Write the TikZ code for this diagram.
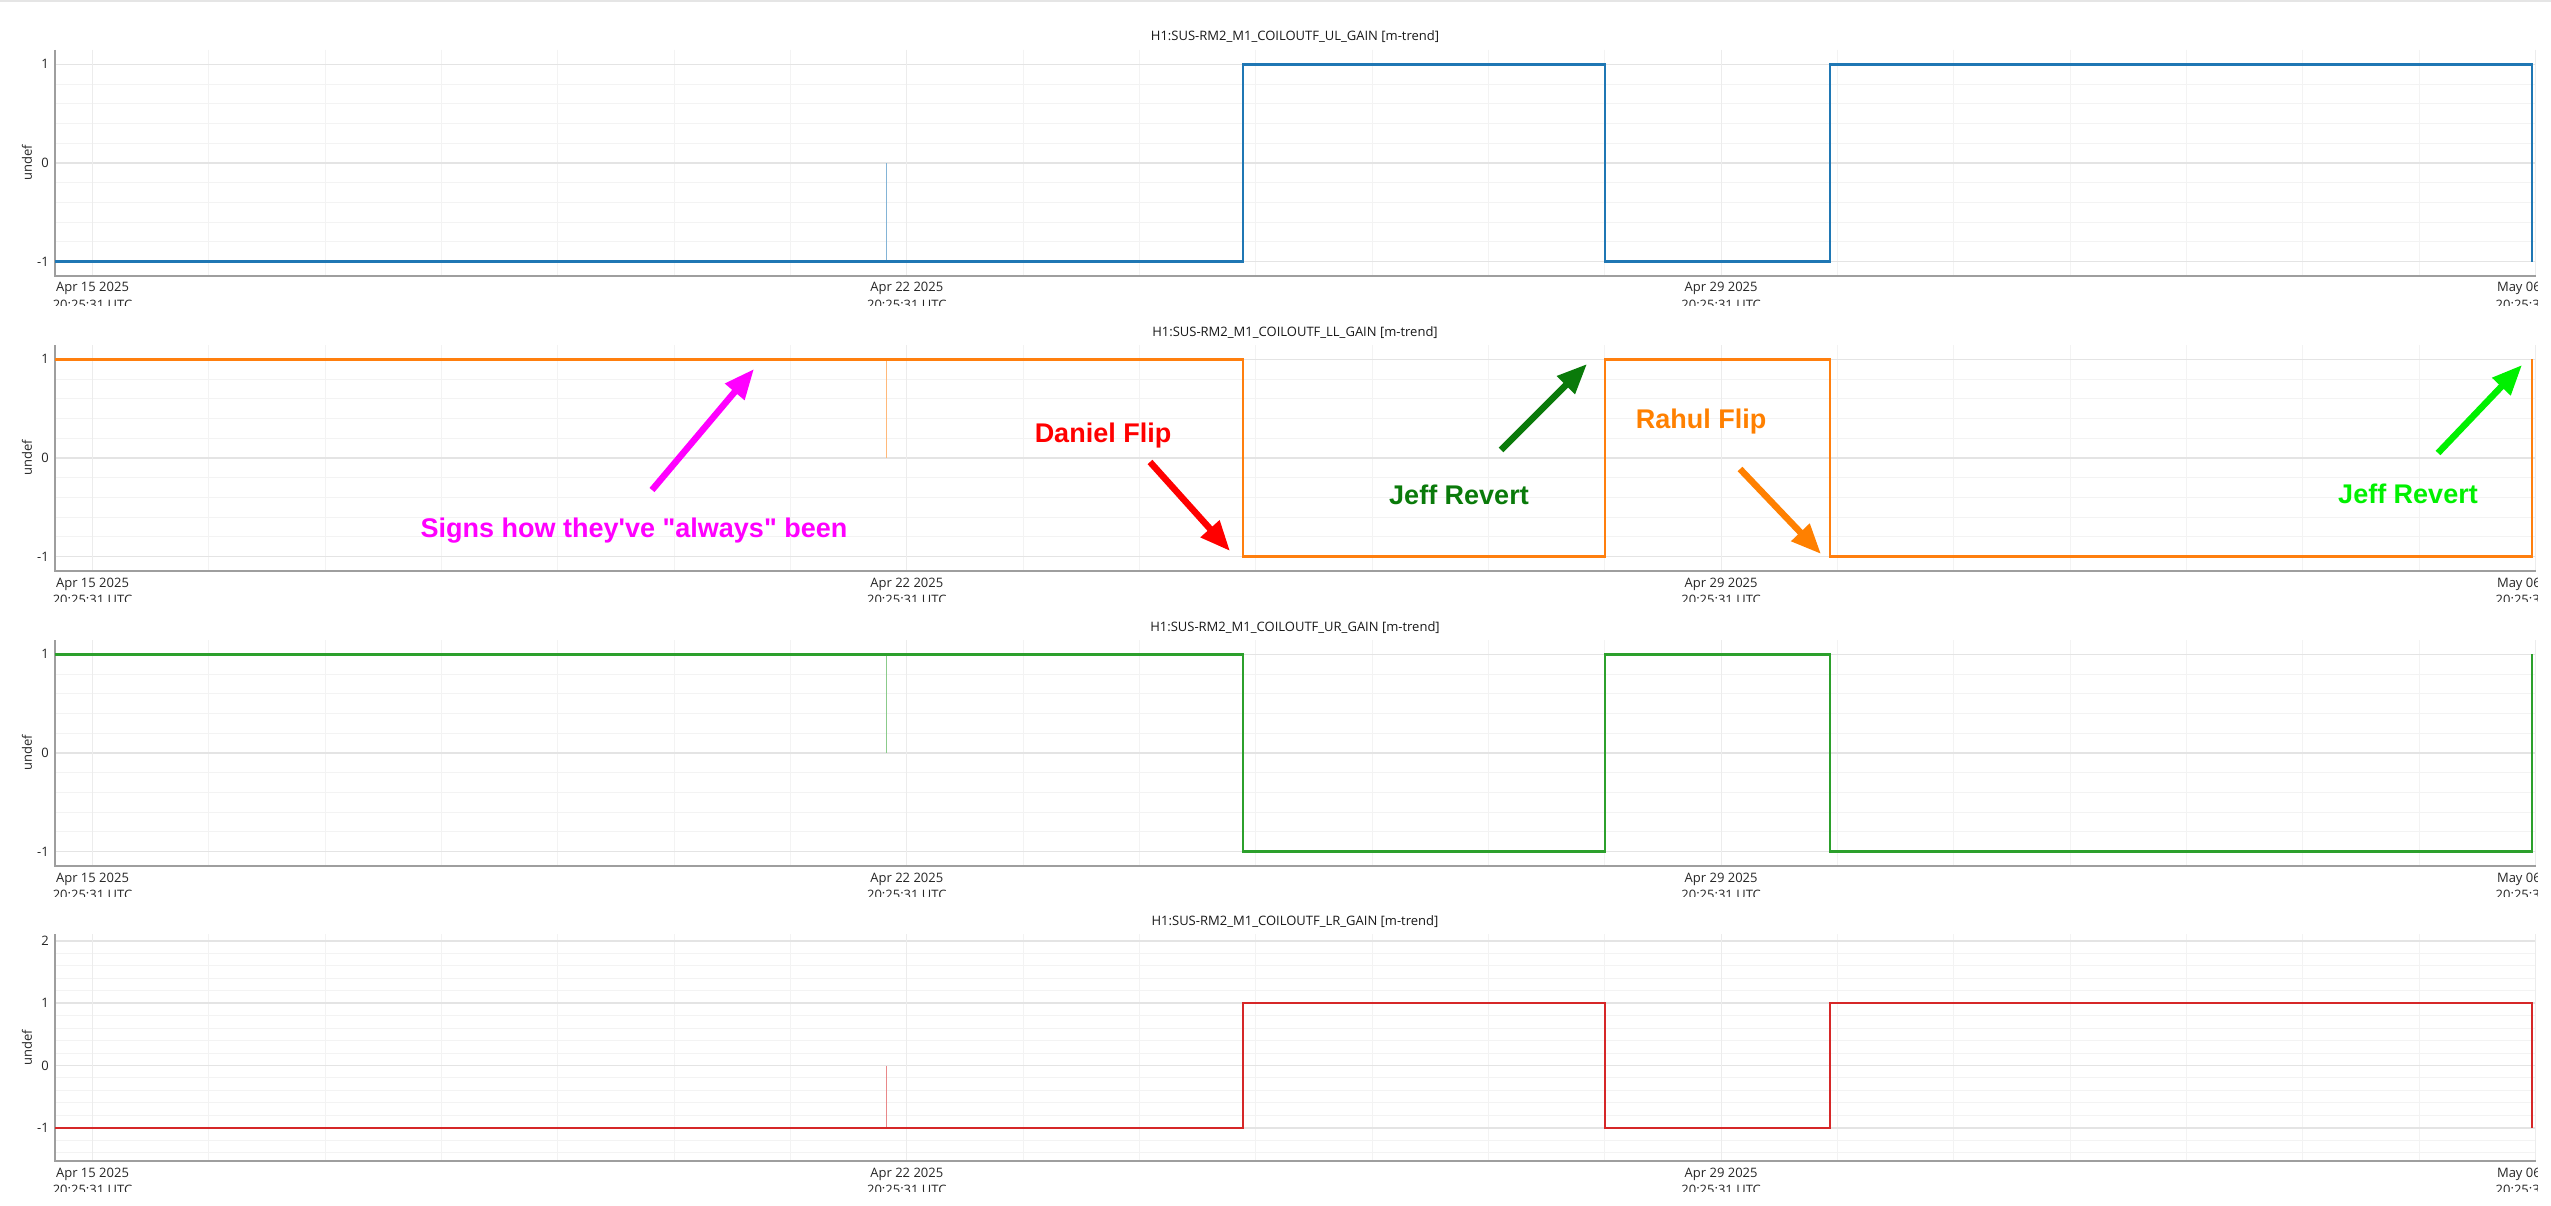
\documentclass[tikz,border=0pt]{standalone}
\usepackage{fontspec}
\setmainfont{Open Sans}
\newfontfamily\annfont{Liberation Sans}
\usetikzlibrary{arrows.meta}
\definecolor{sblue}{RGB}{31,119,180}
\definecolor{sorange}{RGB}{255,127,14}
\definecolor{sgreen}{RGB}{44,160,44}
\definecolor{sred}{RGB}{214,39,40}
\definecolor{amag}{RGB}{255,0,255}
\definecolor{ared}{RGB}{255,0,0}
\definecolor{adgreen}{RGB}{10,122,10}
\definecolor{aorange}{RGB}{255,128,0}
\definecolor{abgreen}{RGB}{0,240,0}
\definecolor{majg}{RGB}{228,228,228}
\definecolor{vmajg}{RGB}{236,236,236}
\definecolor{ming}{RGB}{243,243,243}
\definecolor{axg}{RGB}{158,158,158}
\tikzset{
  majgrid/.style={draw=majg,line width=1.5},
  vmajgrid/.style={draw=vmajg,line width=1.2},
  mingrid/.style={draw=ming,line width=1},
  axisline/.style={draw=axg,line width=2},
  ytick/.style={anchor=east,inner sep=0,font=\fontsize{13}{15}\selectfont,text=black!85},
  xtick/.style={anchor=base,inner sep=0,font=\fontsize{13}{15}\selectfont,text=black!85},
  ptitle/.style={anchor=base,inner sep=0,font=\fontsize{13}{15}\selectfont,text=black!90},
  ylab/.style={rotate=90,inner sep=0,font=\fontsize{13}{15}\selectfont,text=black!85},
  series/.style={line width=2.5,line join=miter},
  spike/.style={line width=1},
  anntext/.style={anchor=base,inner sep=0,font=\annfont\bfseries\fontsize{27}{30}\selectfont},
  annarrow/.style={line width=6.5,-{Triangle[length=30pt,width=24pt]}},
}
% #1 top, #2 bottom, #3 y of value 0, #4 px per unit, #5 lo, #6 hi (in 0.2 steps), #7 top tick, #8 title, #9 panel id
\newcommand\trendpanel[9]{%
  \foreach \i in {#5,...,#6}{%
    \pgfmathsetmacro\yy{#3-#4*\i/5}%
    \pgfmathtruncatemacro\ismaj{mod(abs(\i),5)==0 ? 1 : 0}%
    \ifnum\ismaj=0 \draw[mingrid] (55,\yy) -- (2535,\yy);\fi
  }%
  \foreach \d in {0,...,21}{%
    \pgfmathsetmacro\xx{92.5+116.33*\d}%
    \pgfmathtruncatemacro\ismaj{mod(\d,7)==0 ? 1 : 0}%
    \ifnum\ismaj=0 \draw[mingrid] (\xx,#1) -- (\xx,#2);\fi
  }%
  \foreach \i in {#5,...,#6}{%
    \pgfmathsetmacro\yy{#3-#4*\i/5}%
    \pgfmathtruncatemacro\ismaj{mod(abs(\i),5)==0 ? 1 : 0}%
    \ifnum\ismaj=1 \draw[majgrid] (55,\yy) -- (2535,\yy);\fi
  }%
  \foreach \d in {0,7,14,21}{%
    \pgfmathsetmacro\xx{92.5+116.33*\d}%
    \draw[vmajgrid] (\xx,#1) -- (\xx,#2);
  }%
  \draw[axisline] (55,#1) -- (55,#2) -- (2536,#2);
  \foreach \v in {-1,...,#7}{%
    \pgfmathsetmacro\yy{#3-#4*\v}%
    \node[ytick] (yt#9\v) at (49,\yy) {\v};
  }%
  \node[ylab] (ylab#9) at (27,{(#1+#2)/2}) {undef};
  \node[ptitle] (title#9) at (1295,#1-9) {#8};
  \begin{scope}
    \clip (0,#2) rectangle (2537,#2+30);
    \foreach \d/\lab in {0/Apr 15 2025,7/Apr 22 2025,14/Apr 29 2025,21/May 06 2025}{%
      \node[xtick] (xa#9\d) at (92.5+116.33*\d,#2+16) {\lab};
      \node[xtick] (xb#9\d) at (92.5+116.33*\d,#2+33.5) {20:25:31 UTC};
    }%
  \end{scope}
}
\begin{document}
\begin{tikzpicture}[x=1pt,y=-1pt]
\useasboundingbox (0,0) rectangle (2551,1206);
\fill[white] (0,0) rectangle (2551,1206);
\draw[draw=black!10,line width=2] (0,1) -- (2551,1);

% panel 1 (UL)
\trendpanel{50}{276}{163}{98.7}{-5}{5}{1}{H1:SUS-RM2\_M1\_COILOUTF\_UL\_GAIN [m-trend]}{a}
\draw[spike,sblue!55] (886,261.7) -- (886,163);
\draw[series,sblue] (55,261.7) -| (1243,64.3) -| (1605,261.7) -| (1830,64.3) -| (2532,261.7);

% panel 2 (LL)
\trendpanel{345}{571}{458}{98.7}{-5}{5}{1}{H1:SUS-RM2\_M1\_COILOUTF\_LL\_GAIN [m-trend]}{b}
\draw[spike,sorange!55] (886,359.3) -- (886,458);
\draw[series,sorange] (55,359.3) -| (1243,556.7) -| (1605,359.3) -| (1830,556.7) -| (2532,359.3);

% panel 3 (UR)
\trendpanel{640}{866}{753}{98.7}{-5}{5}{1}{H1:SUS-RM2\_M1\_COILOUTF\_UR\_GAIN [m-trend]}{c}
\draw[spike,sgreen!55] (886,654.3) -- (886,753);
\draw[series,sgreen] (55,654.3) -| (1243,851.7) -| (1605,654.3) -| (1830,851.7) -| (2532,654.3);

% panel 4 (LR)
\trendpanel{934}{1161}{1065.5}{62.3}{-7}{10}{2}{H1:SUS-RM2\_M1\_COILOUTF\_LR\_GAIN [m-trend]}{d}
\draw[spike,sred!55] (886,1127.8) -- (886,1065.5);
\draw[series,sred] (55,1127.8) -| (1243,1003.2) -| (1605,1127.8) -| (1830,1003.2) -| (2532,1127.8);

% annotations
\node[anntext,text=amag] (signs) at (634,537) {Signs how they've "always" been};
\coordinate (signsA) at (652,490);
\coordinate (signsB) at (754,369);
\draw[annarrow,amag] (signsA) -- (signsB);

\node[anntext,text=ared] (daniel) at (1103,442) {Daniel Flip};
\coordinate (danielA) at (1150,462);
\coordinate (danielB) at (1230,551);
\draw[annarrow,ared] (danielA) -- (danielB);

\node[anntext,text=adgreen] (jeff1) at (1459,504) {Jeff Revert};
\coordinate (jeff1A) at (1501,450);
\coordinate (jeff1B) at (1587,364);
\draw[annarrow,adgreen] (jeff1A) -- (jeff1B);

\node[anntext,text=aorange] (rahul) at (1701,428) {Rahul Flip};
\coordinate (rahulA) at (1740,469);
\coordinate (rahulB) at (1821,554);
\draw[annarrow,aorange] (rahulA) -- (rahulB);

\node[anntext,text=abgreen] (jeff2) at (2408,503) {Jeff Revert};
\coordinate (jeff2A) at (2438,453);
\coordinate (jeff2B) at (2522,365);
\draw[annarrow,abgreen] (jeff2A) -- (jeff2B);
\end{tikzpicture}
\end{document}
